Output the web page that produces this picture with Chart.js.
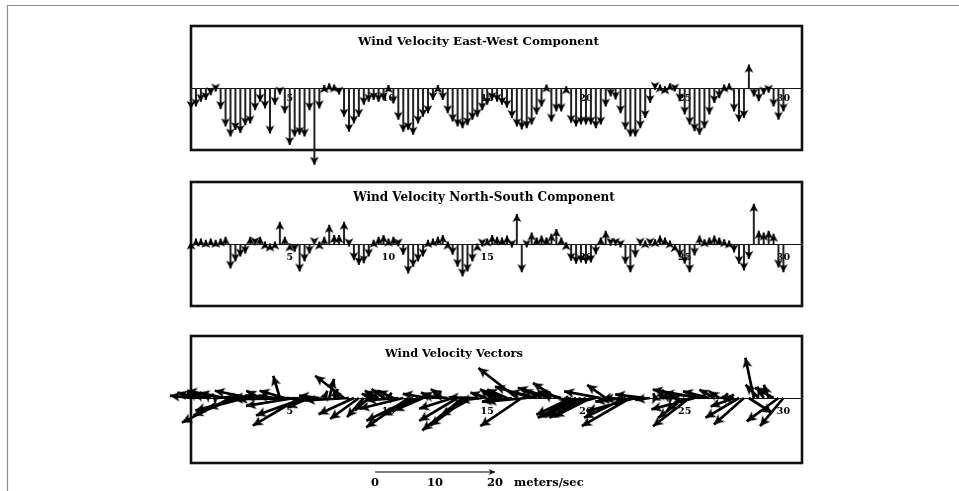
<!DOCTYPE html>
<html><head><meta charset="utf-8">
<script src="https://cdn.jsdelivr.net/npm/chart.js@4.4.1/dist/chart.umd.min.js"></script>
<style>html,body{margin:0;padding:0;background:#fff;overflow:hidden}#wrap{position:absolute;left:0;top:0;width:959px;height:491px}</style>
</head><body><div id="wrap"><canvas id="c" width="959" height="491"></canvas></div>
<script>
// ---- data (days, 6-hourly samples) ----
const days = [0,0.25,0.5,0.75, 1,1.25,1.5,1.75, 2,2.25,2.5,2.75, 3,3.25,3.5,3.75, 4,4.25,4.5,4.75,
  5,5.25,5.5,5.75, 6,6.25,6.5,6.75, 7,7.25,7.5,7.75, 8,8.25,8.5,8.75, 9,9.25,9.5,9.75,
  10,10.25,10.5,10.75, 11,11.25,11.5,11.75, 12,12.25,12.5,12.75, 13,13.25,13.5,13.75, 14,14.25,14.5,14.75,
  15,15.25,15.5,15.75, 16,16.25,16.5,16.75, 17,17.25,17.5,17.75, 18,18.25,18.5,18.75, 19,19.25,19.5,19.75,
  20,20.25,20.5,20.75, 21,21.25,21.5,21.75, 22,22.25,22.5,22.75, 23,23.25,23.5,23.75, 24,24.25,24.5,24.75,
  25,25.25,25.5,25.75, 26,26.25,26.5,26.75, 27,27.25,27.5,27.75, 28,28.25,28.5,28.75, 29,29.25,29.5,29.75, 30];

// East-West component (m/s)
const eastWest = [-3.5,-3.1,-2.3,-2.0, -1.2,-0.6,-3.5,-6.4, -8.1,-7.0,-7.5,-6.2, -5.9,-3.7,-2.3,-3.4,
  -7.6,-2.8,-1.1,-4.2, -9.5,-8.1,-7.8,-8.1, -3.7,-12.8,-3.4,0.5, 0.8,0.6,-1.1,-4.8,
  -7.3,-5.9,-4.8,-2.8, -2.3,-2.0,-2.3,-2.0, 0.5,-2.6,-5.3,-7.3, -7.0,-7.8,-5.9,-4.8,
  -4.2,-2.0,0.5,-2.0, -4.2,-5.6,-6.4,-6.7, -6.2,-5.3,-4.8,-3.7, -2.8,-2.0,-2.3,-2.8,
  -3.3,-5.0,-6.4,-6.9, -6.7,-6.1,-4.4,-3.1, 0.6,-5.6,-3.9,-3.9, 0.3,-5.8,-6.4,-6.1,
  -6.1,-6.1,-6.7,-6.1, -3.1,-1.4,-1.9,-4.2, -6.9,-8.1,-8.1,-6.7, -5.0,-2.5,-0.3,0.6,
  0.3,0.8,-0.6,-2.2, -4.4,-6.1,-7.2,-7.8, -6.7,-4.4,-2.5,-1.7, 0.6,0.8,-3.9,-5.6,
  -5.0,3.9,-1.4,-2.2, -1.1,-0.8,-3.1,-5.3, -3.9];

// North-South component (m/s)
const northSouth = [0.4,0.9,0.9,0.7, 0.9,0.7,0.9,1.2, -4.1,-2.9,-2.1,-1.6, 1.2,-0.2,1.2,0.4,
  0.1,0.4,3.7,1.2, 0.1,-1.3,-4.6,-2.9, -1.6,-0.2,0.4,1.2, 3.2,1.5,1.5,3.7,
  -0.4,-2.7,-3.5,-3.2, -2.1,0.7,1.2,1.5, 0.9,1.2,-0.4,-1.8, -4.9,-3.8,-2.9,-2.1,
  0.7,0.9,1.2,1.5, 0.4,-1.8,-3.8,-5.4, -4.6,-2.9,0.1,-0.4, 0.9,1.5,1.2,1.1,
  1.4,-0.6,5.0,-4.7, -0.6,1.9,1.1,1.4, 1.1,1.7,2.5,1.1, 0.3,-2.8,-3.3,-3.1,
  -3.3,-3.1,-1.7,1.1, 2.2,-0.3,-0.3,-0.6, -3.3,-4.7,-2.2,-0.3, 0.6,-0.3,0.8,1.4,
  1.1,0.6,0.0,-2.2, -3.3,-4.7,-1.9,1.4, 0.8,1.1,1.4,1.1, 0.8,0.6,-1.4,-3.3,
  -4.4,-2.5,6.7,2.2, 1.9,2.2,1.7,-3.9, -4.7];

const dayTicks = [5,10,15,20,25,30];
const scaleTicks = [0,10,20];
const scaleUnit = 'meters/sec';
const titles = ['Wind Velocity East-West Component','Wind Velocity North-South Component','Wind Velocity Vectors'];

// ---- layout (chart area = whole canvas; day 0 at x=191, 19.748 px/day; 6 px per m/s) ----
const PX_PER_DAY = 19.748, PX_PER_MS = 6, W = 959, H = 491;
const X_MIN = -191 / PX_PER_DAY, X_MAX = X_MIN + W / PX_PER_DAY;
const BOX_END = 30.94;
const K = PX_PER_MS / PX_PER_DAY;           // days per m/s (equal aspect for vectors)
const zeroPx = [88, 244, 398];
const yRange = z => ({min: -(H - z) / PX_PER_MS, max: z / PX_PER_MS});
const SCALE_X0 = (375 - 191) / PX_PER_DAY, SCALE_Y = -(472 - 398) / PX_PER_MS;

const SERIF = "'DejaVu Serif', 'Liberation Serif', serif";

function arrowSprite(len, half, size) {
  const c = document.createElement('canvas'); c.width = size; c.height = size;
  const g = c.getContext('2d'); const cx = size / 2, cy = size / 2;
  g.fillStyle = '#000';
  g.beginPath(); g.moveTo(cx, cy); g.lineTo(cx - half, cy + len); g.lineTo(cx, cy + len * 0.75);
  g.lineTo(cx + half, cy + len); g.closePath(); g.fill();
  return c;
}
const headSmall = arrowSprite(8, 4.4, 20);
const headBig = arrowSprite(10, 5, 24);
const headScale = arrowSprite(6, 3, 14);

function sticks(vals) {
  const pts = [];
  days.forEach((d, i) => { pts.push({x: d, y: 0}, {x: d, y: vals[i]}, {x: d, y: null}); });
  return pts;
}
function vectors() {
  const pts = [];
  days.forEach((d, i) => { pts.push({x: d, y: 0}, {x: d + eastWest[i] * K, y: northSouth[i]}, {x: d, y: null}); });
  return pts;
}
const isTip = ctx => ctx.dataIndex % 3 === 1;
const idx = ctx => Math.floor(ctx.dataIndex / 3);

function stickDataset(vals, xa, ya) {
  return {
    data: sticks(vals), xAxisID: xa, yAxisID: ya, borderColor: '#222', borderWidth: 2,
    spanGaps: false, clip: false, tension: 0,
    pointStyle: ctx => isTip(ctx) ? headSmall : 'circle',
    pointRadius: ctx => isTip(ctx) ? 4 : 0,
    pointRotation: ctx => vals[idx(ctx)] >= 0 ? 0 : 180,
    pointBackgroundColor: '#000', pointBorderWidth: 0
  };
}

const datasets = [
  stickDataset(eastWest, 'x1', 'y1'),
  stickDataset(northSouth, 'x2', 'y2'),
  {
    data: vectors(), xAxisID: 'x3', yAxisID: 'y3', borderColor: '#000', borderWidth: 2.7,
    spanGaps: false, clip: false, tension: 0,
    pointStyle: ctx => isTip(ctx) ? headBig : 'circle',
    pointRadius: ctx => isTip(ctx) ? 4 : 0,
    pointRotation: ctx => { const i = idx(ctx); return Math.atan2(eastWest[i], northSouth[i]) * 180 / Math.PI; },
    pointBackgroundColor: '#000', pointBorderWidth: 0
  },
  {
    data: [{x: SCALE_X0, y: SCALE_Y}, {x: SCALE_X0 + scaleTicks[scaleTicks.length - 1] * K, y: SCALE_Y}],
    xAxisID: 'x3', yAxisID: 'y3', borderColor: '#000', borderWidth: 1.2, clip: false,
    pointStyle: ctx => ctx.dataIndex === 1 ? headScale : 'circle',
    pointRadius: ctx => ctx.dataIndex === 1 ? 4 : 0, pointRotation: 90
  }
];

const panels = [
  {x: 'x1', y: 'y1', top: 62 / 6, bottom: -62 / 6, cx: 478.5, base: 44.5, w: 241},
  {x: 'x2', y: 'y2', top: 62 / 6, bottom: -62 / 6, cx: 484, base: 200.5, w: 262},
  {x: 'x3', y: 'y3', top: 62 / 6, bottom: -65 / 6, cx: 454, base: 357, w: 138}
];

const deco = {
  id: 'deco',
  beforeDraw(chart) {
    const c = chart.ctx; c.save();
    c.fillStyle = '#fff'; c.fillRect(0, 0, chart.width, chart.height);
    c.strokeStyle = '#8c8c8c'; c.lineWidth = 1.2;
    c.beginPath(); c.moveTo(7.5, H); c.lineTo(7.5, 5.5); c.lineTo(W, 5.5); c.stroke();
    c.restore();
  },
  beforeDatasetsDraw(chart) {
    const c = chart.ctx; c.save(); c.strokeStyle = '#111';
    panels.forEach(p => {
      const xs = chart.scales[p.x], ys = chart.scales[p.y];
      const l = xs.getPixelForValue(0), r = xs.getPixelForValue(BOX_END);
      const t = ys.getPixelForValue(p.top), b = ys.getPixelForValue(p.bottom), z = ys.getPixelForValue(0);
      c.lineWidth = 2.6; c.strokeRect(l, t, r - l, b - t);
      c.lineWidth = 1.2; c.beginPath(); c.moveTo(l, Math.round(z) + 0.5); c.lineTo(r, Math.round(z) + 0.5); c.stroke();
    });
    c.restore();
  },
  afterDatasetsDraw(chart) {
    const c = chart.ctx; c.save(); c.fillStyle = '#000';
    panels.forEach((p, i) => {
      c.font = 'bold 100px ' + SERIF;
      const size = 100 * p.w / c.measureText(titles[i]).width;
      c.font = 'bold ' + size.toFixed(2) + 'px ' + SERIF;
      c.textAlign = 'center'; c.textBaseline = 'alphabetic';
      c.fillText(titles[i], p.cx, p.base);
    });
    const xs = chart.scales.x3, ys = chart.scales.y3;
    c.font = 'bold 11.5px ' + SERIF; c.textAlign = 'center'; c.textBaseline = 'alphabetic';
    const by = ys.getPixelForValue(SCALE_Y) + 14;
    scaleTicks.forEach(v => c.fillText(String(v), xs.getPixelForValue(SCALE_X0 + v * K), by));
    c.textAlign = 'left';
    c.fillText(scaleUnit, xs.getPixelForValue(SCALE_X0 + scaleTicks[scaleTicks.length - 1] * K) + 19, by);
    c.restore();
  }
};

function xAxis(yId, pad) {
  return {
    type: 'linear', axis: 'x', min: X_MIN, max: X_MAX, position: {[yId]: 0},
    grid: {display: false, drawTicks: false}, border: {display: false},
    afterBuildTicks: a => { a.ticks = dayTicks.map(v => ({value: v})); },
    ticks: {autoSkip: false, maxRotation: 0, padding: pad, color: '#000',
      font: {family: SERIF, weight: 'bold', size: 9.5}, callback: v => String(v)}
  };
}
function yAxis(z) {
  const r = yRange(z);
  return {type: 'linear', axis: 'y', min: r.min, max: r.max, display: false};
}

new Chart(document.getElementById('c'), {
  type: 'line',
  data: {datasets},
  options: {
    responsive: false, animation: false, events: [],
    layout: {padding: 0, autoPadding: false},
    plugins: {legend: {display: false}, title: {display: false}, tooltip: {enabled: false}},
    scales: {
      x1: xAxis('y1', 5), x2: xAxis('y2', 8), x3: xAxis('y3', 8),
      y1: yAxis(zeroPx[0]), y2: yAxis(zeroPx[1]), y3: yAxis(zeroPx[2])
    }
  },
  plugins: [deco]
});
</script></body></html>
